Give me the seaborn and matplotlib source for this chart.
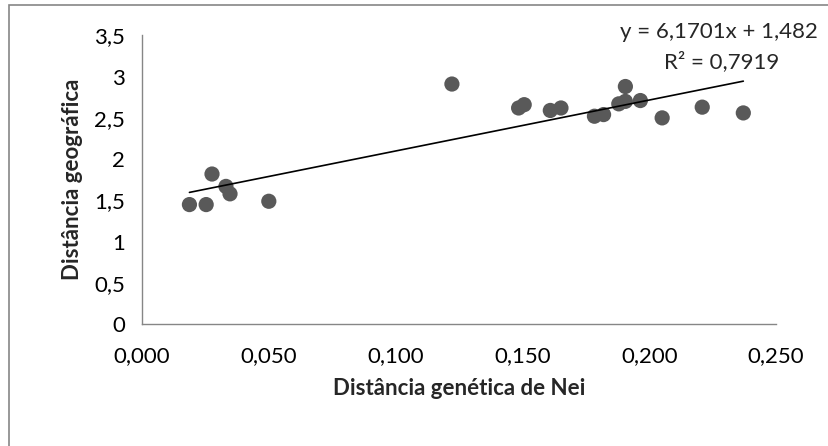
import matplotlib
matplotlib.use("Agg")
import matplotlib.pyplot as plt
import matplotlib.patches as mpatches
from matplotlib.ticker import FixedLocator, FuncFormatter
import seaborn as sns
import pandas as pd
import numpy as np

# Nei genetic distance vs geographic distance
nei_dist = [0.0187, 0.0253, 0.0276, 0.0331, 0.0347, 0.0500,
            0.1222, 0.1485, 0.1507, 0.1610, 0.1652, 0.1784, 0.1820,
            0.1880, 0.1906, 0.1906, 0.1965, 0.2051, 0.2209, 0.2371]
geo_dist = [1.45, 1.45, 1.82, 1.67, 1.58, 1.49,
            2.91, 2.62, 2.66, 2.59, 2.62, 2.52, 2.54,
            2.67, 2.70, 2.88, 2.71, 2.50, 2.63, 2.56]

# trendline reported on the chart
slope = 6.1701
intercept = 1.482
r_squared = 0.7919

x_ticks = [0.0, 0.05, 0.10, 0.15, 0.20, 0.25]
y_ticks = [0, 0.5, 1, 1.5, 2, 2.5, 3, 3.5]

df = pd.DataFrame({"nei": nei_dist, "geo": geo_dist})

sns.set_style("white")
plt.rcParams["font.family"] = ["Lato", "DejaVu Sans"]

fig = plt.figure(figsize=(8.29, 4.46), dpi=100)
ax = fig.add_axes([0.1713, 0.2729, 0.7648, 0.6479])

sns.scatterplot(data=df, x="nei", y="geo", ax=ax, s=120, color="#595959",
                edgecolor="none", linewidth=0, zorder=3)

# trendline over the data range
xs = np.array([min(nei_dist), max(nei_dist)])
ax.plot(xs, slope * xs + intercept, color="black", lw=1.2, zorder=4)

ax.set_xlim(0, 0.25)
ax.set_ylim(0, 3.5)
ax.xaxis.set_major_locator(FixedLocator(x_ticks))
ax.yaxis.set_major_locator(FixedLocator(y_ticks))
ax.xaxis.set_major_formatter(FuncFormatter(lambda v, p: f"{v:.3f}".replace(".", ",")))
ax.yaxis.set_major_formatter(FuncFormatter(
    lambda v, p: (f"{v:g}").replace(".", ",")))

for side in ["top", "right"]:
    ax.spines[side].set_visible(False)
for side in ["left", "bottom"]:
    ax.spines[side].set_color("#868686")
    ax.spines[side].set_linewidth(1.0)

ax.tick_params(axis="both", which="major", direction="out", length=6,
               width=1.0, color="#868686", labelsize=16, labelcolor="black")
ax.tick_params(axis="x", pad=10)
ax.tick_params(axis="y", pad=6)

ax.set_xlabel("Distância genética de Nei", fontsize=16, fontweight="bold", labelpad=8)
ax.set_ylabel("Distância geográfica", fontsize=16, fontweight="bold", labelpad=8)

fig.text(719 / 829, 1 - 32 / 446, f"y = {slope:.4f}x + {intercept:.3f}".replace(".", ","),
         ha="center", va="center", fontsize=16)
fig.text(722 / 829, 1 - 62 / 446, f"R² = {r_squared:.4f}".replace(".", ","),
         ha="center", va="center", fontsize=16)

# chart area border (top and left visible)
fig.patches.append(mpatches.Rectangle((9 / 829, -0.1), 1.2, 1 - 5 / 446 + 0.1,
                                      transform=fig.transFigure, fill=False,
                                      edgecolor="#868686", lw=1.2))

fig.savefig("out.png", dpi=100)
